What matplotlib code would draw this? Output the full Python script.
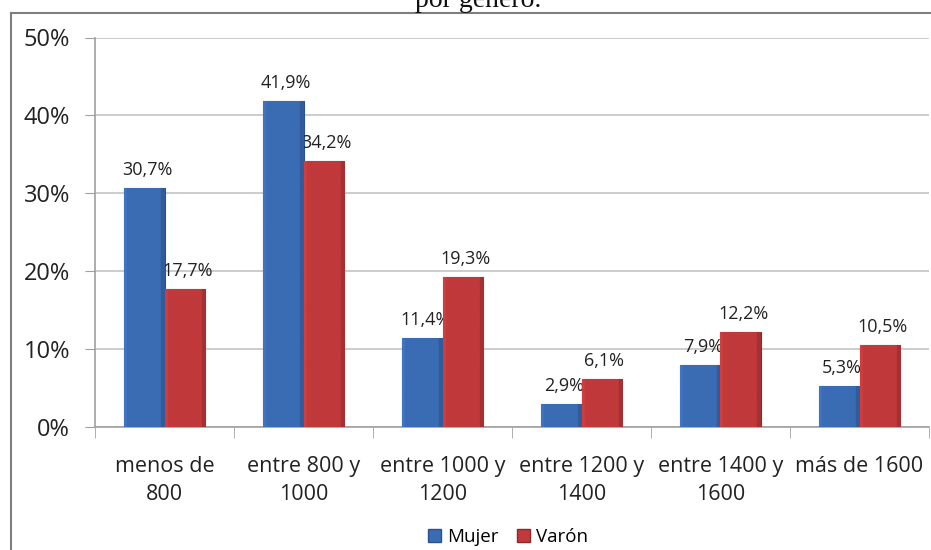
import matplotlib
matplotlib.use("Agg")
import matplotlib.pyplot as plt
import numpy as np
from matplotlib.lines import Line2D
from matplotlib.patches import Patch
from matplotlib.colors import to_rgb

# data
categories = ["menos de\n800", "entre 800 y\n1000", "entre 1000 y\n1200",
              "entre 1200 y\n1400", "entre 1400 y\n1600", "más de 1600"]
mujer = [30.7, 41.9, 11.4, 2.9, 7.9, 5.3]
varon = [17.7, 34.2, 19.3, 6.1, 12.2, 10.5]
series_names = ["Mujer", "Varón"]
y_ticks = [0, 10, 20, 30, 40, 50]

plt.rcParams['font.family'] = ['Open Sans', 'DejaVu Sans']

W, H = 931, 550
fig = plt.figure(figsize=(W / 100, H / 100), dpi=100)
ax = fig.add_axes([95 / W, 1 - 427 / H, (929 - 95) / W, (427 - 37.5) / H])

blue = "#3A6CB4"
blue_edge = "#2B5290"
red = "#C0393B"
red_edge = "#912829"


def shade(color, n=60):
    # soft side shading, a bit like excel's bevel bars
    c = np.array(to_rgb(color))
    xs = np.linspace(0, 1, n)
    f = np.where(xs < 0.06, 1.08, np.where(xs > 0.9, 0.85, 1.0))
    img = np.ones((2, n, 3)) * c * f[None, :, None]
    return np.clip(img, 0, 1)


x = np.arange(len(categories))
bw = 0.29
b1 = ax.bar(x - bw / 2, mujer, bw, color=blue, edgecolor=blue_edge, linewidth=0.8, zorder=3)
b2 = ax.bar(x + bw / 2, varon, bw, color=red, edgecolor=red_edge, linewidth=0.8, zorder=3)

for bars, col in ((b1, blue), (b2, red)):
    tex = shade(col)
    for rect in bars:
        x0, w, h = rect.get_x(), rect.get_width(), rect.get_height()
        im = ax.imshow(tex, extent=(x0, x0 + w, 0, h), origin="lower",
                       aspect="auto", zorder=3.5, interpolation="bilinear")
        im.set_clip_path(rect)

# value labels like "30,7%"
for bars, vals in ((b1, mujer), (b2, varon)):
    for rect, v in zip(bars, vals):
        ax.annotate(f"{v:.1f}%".replace(".", ","),
                    (rect.get_x() + rect.get_width() / 2, v),
                    xytext=(2, 13), textcoords="offset points",
                    ha="center", va="center", fontsize=13, color="#222222")

ax.set_xlim(-0.5, len(categories) - 0.5)
ax.set_ylim(0, 50)
ax.set_yticks(y_ticks)
ax.set_yticklabels([f"{t}%" for t in y_ticks], fontsize=17, color="#222222")
ax.yaxis.grid(True, color="#C4C4C4", linewidth=1.2, zorder=0)
ax.tick_params(axis="y", length=7, color="#A0A0A0", pad=11)

ax.set_xticks(x)
ax.set_xticklabels(categories, fontsize=15.5, color="#222222", linespacing=1.4)
ax.tick_params(axis="x", which="major", length=0, pad=21)
ax.set_xticks(np.arange(-0.5, len(categories)), minor=True)
ax.tick_params(axis="x", which="minor", length=8, color="#A0A0A0")

for s in ("top", "right"):
    ax.spines[s].set_visible(False)
for s in ("left", "bottom"):
    ax.spines[s].set_color("#A0A0A0")
    ax.spines[s].set_linewidth(1.2)

handles = [Patch(facecolor=blue, edgecolor=blue_edge), Patch(facecolor=red, edgecolor=red_edge)]
fig.legend(handles, series_names, loc="center", bbox_to_anchor=(508 / W, 1 - 537 / H),
           ncol=2, frameon=False, fontsize=13.5, handlelength=0.7, handleheight=0.7,
           handletextpad=0.3, columnspacing=1.0)

# outer chart box (only top and left edges are visible)
fig.add_artist(Line2D([11 / W, 1.0], [1 - 12.7 / H, 1 - 12.7 / H], color="#7F7F7F", linewidth=1.5))
fig.add_artist(Line2D([11 / W, 11 / W], [0, 1 - 12.7 / H], color="#7F7F7F", linewidth=1.5))

# title, cut off at the top of the image
fig.text(478 / W, 1 - 7 / H, "por genero.", ha="center", va="baseline",
         fontsize=20, family="Liberation Serif", color="#111111")

fig.savefig("out.png", dpi=100)
